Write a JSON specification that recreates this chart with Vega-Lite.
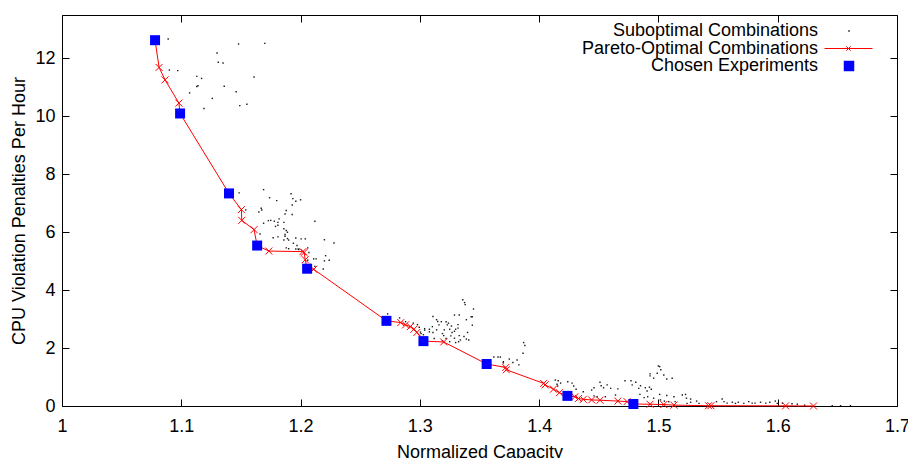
{
  "$schema": "https://vega.github.io/schema/vega-lite/v6.json",
  "width": 835,
  "height": 391,
  "autosize": {"type": "none"},
  "padding": {"left": 62, "top": 15, "right": 11, "bottom": 52},
  "background": "#ffffff",
  "config": {
    "view": {"stroke": "#000000", "strokeWidth": 1},
    "font": "Liberation Sans",
    "axis": {
      "domain": false,
      "grid": false,
      "ticks": true,
      "tickSize": -7,
      "tickColor": "#000000",
      "tickWidth": 1,
      "labelFont": "Liberation Sans",
      "labelFontSize": 18,
      "labelColor": "#000000",
      "titleFont": "Liberation Sans",
      "titleFontSize": 18,
      "titleFontWeight": "normal",
      "titleColor": "#000000"
    },
    "legend": {
      "orient": "none",
      "title": null,
      "padding": 0,
      "labelFont": "Liberation Sans",
      "labelFontSize": 18,
      "labelColor": "#000000",
      "labelAlign": "right",
      "labelLimit": 400,
      "rowPadding": 0,
      "symbolOpacity": 1
    }
  },
  "datasets": {
    "sub": [
      {"capacity":1.089,"penalty":12.67},{"capacity":1.148,"penalty":12.50},{"capacity":1.170,"penalty":12.52},{"capacity":1.130,"penalty":12.19},{"capacity":1.131,"penalty":11.87},{"capacity":1.135,"penalty":11.84},{"capacity":1.090,"penalty":11.60},{"capacity":1.097,"penalty":11.58},{"capacity":1.113,"penalty":11.38},{"capacity":1.117,"penalty":11.31},{"capacity":1.161,"penalty":11.36},{"capacity":1.114,"penalty":11.06},{"capacity":1.113,"penalty":11.03},{"capacity":1.136,"penalty":11.04},{"capacity":1.146,"penalty":10.85},{"capacity":1.107,"penalty":10.81},{"capacity":1.126,"penalty":10.62},{"capacity":1.155,"penalty":10.42},{"capacity":1.149,"penalty":10.37},{"capacity":1.119,"penalty":10.27},
      {"capacity":1.1485,"penalty":7.36},{"capacity":1.169,"penalty":7.47},{"capacity":1.174,"penalty":7.19},{"capacity":1.180,"penalty":7.09},{"capacity":1.192,"penalty":7.33},{"capacity":1.1935,"penalty":7.16},{"capacity":1.196,"penalty":7.07},{"capacity":1.200,"penalty":7.12},{"capacity":1.193,"penalty":6.94},{"capacity":1.154,"penalty":6.77},{"capacity":1.165,"penalty":6.70},{"capacity":1.167,"penalty":6.83},{"capacity":1.1675,"penalty":6.77},{"capacity":1.188,"penalty":6.75},{"capacity":1.187,"penalty":6.63},{"capacity":1.193,"penalty":6.61},{"capacity":1.182,"penalty":6.46},{"capacity":1.173,"penalty":6.40},{"capacity":1.175,"penalty":6.41},{"capacity":1.178,"penalty":6.38},{"capacity":1.181,"penalty":6.34},{"capacity":1.186,"penalty":6.34},{"capacity":1.212,"penalty":6.38},{"capacity":1.169,"penalty":6.31},{"capacity":1.179,"penalty":6.20},{"capacity":1.181,"penalty":6.24},{"capacity":1.186,"penalty":6.12},{"capacity":1.188,"penalty":6.06},{"capacity":1.189,"penalty":6.00},{"capacity":1.166,"penalty":5.94},{"capacity":1.187,"penalty":5.92},{"capacity":1.187,"penalty":5.86},{"capacity":1.189,"penalty":5.78},{"capacity":1.177,"penalty":5.81},{"capacity":1.181,"penalty":5.84},{"capacity":1.186,"penalty":5.73},{"capacity":1.190,"penalty":5.73},{"capacity":1.196,"penalty":5.80},{"capacity":1.2005,"penalty":5.77},{"capacity":1.204,"penalty":5.77},{"capacity":1.194,"penalty":5.62},{"capacity":1.197,"penalty":5.54},{"capacity":1.198,"penalty":5.42},{"capacity":1.220,"penalty":5.74},{"capacity":1.228,"penalty":5.63},{"capacity":1.188,"penalty":5.46},{"capacity":1.190,"penalty":5.43},{"capacity":1.196,"penalty":5.42},{"capacity":1.1985,"penalty":5.40},{"capacity":1.206,"penalty":5.46},{"capacity":1.207,"penalty":5.30},{"capacity":1.221,"penalty":5.19},{"capacity":1.211,"penalty":5.08},{"capacity":1.213,"penalty":5.08},{"capacity":1.220,"penalty":5.01},{"capacity":1.224,"penalty":5.03},{"capacity":1.208,"penalty":4.89},{"capacity":1.212,"penalty":4.82},{"capacity":1.219,"penalty":4.73},{"capacity":1.206,"penalty":5.03},
      {"capacity":1.336,"penalty":3.67},{"capacity":1.3375,"penalty":3.57},{"capacity":1.338,"penalty":3.50},{"capacity":1.345,"penalty":3.35},{"capacity":1.311,"penalty":3.09},{"capacity":1.329,"penalty":3.14},{"capacity":1.333,"penalty":3.14},{"capacity":1.343,"penalty":3.08},{"capacity":1.344,"penalty":3.08},{"capacity":1.283,"penalty":3.04},{"capacity":1.314,"penalty":2.98},{"capacity":1.315,"penalty":2.92},{"capacity":1.318,"penalty":2.91},{"capacity":1.322,"penalty":2.91},{"capacity":1.324,"penalty":2.86},{"capacity":1.339,"penalty":2.98},{"capacity":1.288,"penalty":2.91},{"capacity":1.2945,"penalty":2.86},{"capacity":1.298,"penalty":2.81},{"capacity":1.3105,"penalty":2.74},{"capacity":1.316,"penalty":2.80},{"capacity":1.323,"penalty":2.80},{"capacity":1.3265,"penalty":2.76},{"capacity":1.332,"penalty":2.81},{"capacity":1.344,"penalty":2.79},{"capacity":1.2995,"penalty":2.72},{"capacity":1.304,"penalty":2.67},{"capacity":1.308,"penalty":2.65},{"capacity":1.314,"penalty":2.63},{"capacity":1.3205,"penalty":2.63},{"capacity":1.325,"penalty":2.65},{"capacity":1.330,"penalty":2.65},{"capacity":1.332,"penalty":2.69},{"capacity":1.304,"penalty":2.62},{"capacity":1.308,"penalty":2.56},{"capacity":1.311,"penalty":2.54},{"capacity":1.319,"penalty":2.50},{"capacity":1.327,"penalty":2.54},{"capacity":1.329,"penalty":2.58},{"capacity":1.340,"penalty":2.54},{"capacity":1.320,"penalty":2.43},{"capacity":1.326,"penalty":2.42},{"capacity":1.333,"penalty":2.43},{"capacity":1.337,"penalty":2.40},{"capacity":1.305,"penalty":2.35},{"capacity":1.312,"penalty":2.33},{"capacity":1.322,"penalty":2.33},{"capacity":1.329,"penalty":2.34},{"capacity":1.334,"penalty":2.28},{"capacity":1.339,"penalty":2.31},{"capacity":1.341,"penalty":2.28},{"capacity":1.319,"penalty":2.25},{"capacity":1.325,"penalty":2.22},{"capacity":1.330,"penalty":2.19},{"capacity":1.3325,"penalty":2.22},{"capacity":1.3005,"penalty":2.55},{"capacity":1.301,"penalty":2.50},{"capacity":1.303,"penalty":2.46},{"capacity":1.273,"penalty":3.18},
      {"capacity":1.387,"penalty":2.19},{"capacity":1.388,"penalty":2.09},{"capacity":1.3865,"penalty":1.82},{"capacity":1.3815,"penalty":1.59},{"capacity":1.383,"penalty":1.42},{"capacity":1.378,"penalty":1.50},{"capacity":1.362,"penalty":1.69},{"capacity":1.3655,"penalty":1.69},{"capacity":1.3675,"penalty":1.69},{"capacity":1.370,"penalty":1.53},{"capacity":1.375,"penalty":1.62},{"capacity":1.370,"penalty":1.49},
      {"capacity":1.4136,"penalty":0.90},{"capacity":1.415,"penalty":0.75},{"capacity":1.416,"penalty":0.87},{"capacity":1.418,"penalty":0.79},{"capacity":1.4155,"penalty":0.69},{"capacity":1.424,"penalty":0.84},{"capacity":1.4276,"penalty":0.79},{"capacity":1.429,"penalty":0.69},{"capacity":1.431,"penalty":0.58},{"capacity":1.437,"penalty":0.49},{"capacity":1.444,"penalty":0.55},{"capacity":1.446,"penalty":0.63},{"capacity":1.451,"penalty":0.82},{"capacity":1.452,"penalty":0.70},{"capacity":1.454,"penalty":0.63},{"capacity":1.457,"penalty":0.73},{"capacity":1.460,"penalty":0.61},{"capacity":1.466,"penalty":0.59},{"capacity":1.446,"penalty":0.35},{"capacity":1.4486,"penalty":0.32},{"capacity":1.4555,"penalty":0.32},{"capacity":1.464,"penalty":0.38},{"capacity":1.472,"penalty":0.87},{"capacity":1.477,"penalty":0.87},{"capacity":1.478,"penalty":0.73},{"capacity":1.481,"penalty":0.82},{"capacity":1.485,"penalty":0.70},{"capacity":1.4835,"penalty":0.61},{"capacity":1.489,"penalty":0.63},{"capacity":1.4905,"penalty":0.52},{"capacity":1.493,"penalty":1.11},{"capacity":1.496,"penalty":0.96},{"capacity":1.499,"penalty":1.13},{"capacity":1.501,"penalty":1.36},{"capacity":1.502,"penalty":1.25},{"capacity":1.5045,"penalty":1.07},{"capacity":1.507,"penalty":0.93},{"capacity":1.5115,"penalty":0.96},{"capacity":1.4925,"penalty":0.65},{"capacity":1.494,"penalty":0.58},{"capacity":1.4845,"penalty":0.40},{"capacity":1.488,"penalty":0.29},{"capacity":1.491,"penalty":0.32},{"capacity":1.496,"penalty":0.27},{"capacity":1.501,"penalty":0.40},{"capacity":1.507,"penalty":0.36},{"capacity":1.513,"penalty":0.32},{"capacity":1.5017,"penalty":0.21},{"capacity":1.505,"penalty":0.17},{"capacity":1.5086,"penalty":0.15},{"capacity":1.514,"penalty":0.15},{"capacity":1.520,"penalty":0.38},{"capacity":1.5235,"penalty":0.27},{"capacity":1.524,"penalty":0.09},{"capacity":1.500,"penalty":1.38},{"capacity":1.493,"penalty":1.04},
      {"capacity":1.5227,"penalty":0.40},{"capacity":1.527,"penalty":0.24},{"capacity":1.532,"penalty":0.17},{"capacity":1.527,"penalty":0.13},{"capacity":1.534,"penalty":0.09},{"capacity":1.5487,"penalty":0.15},{"capacity":1.5534,"penalty":0.24},{"capacity":1.555,"penalty":0.15},{"capacity":1.5576,"penalty":0.10},{"capacity":1.562,"penalty":0.13},{"capacity":1.5646,"penalty":0.09},{"capacity":1.567,"penalty":0.13},{"capacity":1.5716,"penalty":0.09},{"capacity":1.5757,"penalty":0.15},{"capacity":1.5786,"penalty":0.10},{"capacity":1.581,"penalty":0.10},{"capacity":1.5856,"penalty":0.13},{"capacity":1.590,"penalty":0.10},{"capacity":1.5934,"penalty":0.13},{"capacity":1.598,"penalty":0.17},{"capacity":1.5996,"penalty":0.09},{"capacity":1.604,"penalty":0.10},{"capacity":1.612,"penalty":0.08},{"capacity":1.6164,"penalty":0.06},{"capacity":1.6225,"penalty":0.03},{"capacity":1.6457,"penalty":0.01},{"capacity":1.6527,"penalty":0.01},{"capacity":1.661,"penalty":0.01}
    ],
    "pareto": [
      {"capacity":1.078,"penalty":12.63},{"capacity":1.0814,"penalty":11.69},{"capacity":1.0864,"penalty":11.26},{"capacity":1.098,"penalty":10.46},{"capacity":1.099,"penalty":10.10},{"capacity":1.140,"penalty":7.34},{"capacity":1.1504,"penalty":6.78},{"capacity":1.1507,"penalty":6.41},{"capacity":1.161,"penalty":6.09},{"capacity":1.1636,"penalty":5.54},{"capacity":1.1734,"penalty":5.35},{"capacity":1.2019,"penalty":5.33},{"capacity":1.2030,"penalty":5.30},{"capacity":1.2039,"penalty":5.05},{"capacity":1.2055,"penalty":4.74},{"capacity":1.211,"penalty":4.72},{"capacity":1.272,"penalty":2.94},{"capacity":1.284,"penalty":2.88},{"capacity":1.288,"penalty":2.80},{"capacity":1.292,"penalty":2.74},{"capacity":1.295,"penalty":2.65},{"capacity":1.2975,"penalty":2.54},{"capacity":1.303,"penalty":2.24},{"capacity":1.320,"penalty":2.21},{"capacity":1.356,"penalty":1.45},{"capacity":1.372,"penalty":1.33},{"capacity":1.3725,"penalty":1.25},{"capacity":1.4038,"penalty":0.78},{"capacity":1.405,"penalty":0.73},{"capacity":1.412,"penalty":0.58},{"capacity":1.417,"penalty":0.46},{"capacity":1.4237,"penalty":0.35},{"capacity":1.430,"penalty":0.32},{"capacity":1.433,"penalty":0.26},{"capacity":1.437,"penalty":0.23},{"capacity":1.444,"penalty":0.21},{"capacity":1.451,"penalty":0.20},{"capacity":1.466,"penalty":0.17},{"capacity":1.4737,"penalty":0.15},{"capacity":1.479,"penalty":0.07},{"capacity":1.493,"penalty":0.06},{"capacity":1.5045,"penalty":0.05},{"capacity":1.513,"penalty":0.03},{"capacity":1.542,"penalty":0.01},{"capacity":1.544,"penalty":0.01},{"capacity":1.6066,"penalty":0.005},{"capacity":1.630,"penalty":0.0}
    ],
    "chosen": [
      {"capacity":1.078,"penalty":12.63},{"capacity":1.099,"penalty":10.10},{"capacity":1.140,"penalty":7.34},{"capacity":1.1636,"penalty":5.54},{"capacity":1.2055,"penalty":4.74},{"capacity":1.272,"penalty":2.94},{"capacity":1.303,"penalty":2.24},{"capacity":1.356,"penalty":1.45},{"capacity":1.4237,"penalty":0.35},{"capacity":1.479,"penalty":0.07}
    ]
  },
  "resolve": {"axis": {"x": "independent", "y": "independent"}},
  "layer": [
    {
      "data": {"name": "sub"},
      "mark": {"type": "square", "size": 2, "opacity": 0.9},
      "encoding": {
        "x": {"field": "capacity", "type": "quantitative", "scale": {"domain": [1, 1.7], "nice": false, "zero": false},
              "axis": {"orient": "bottom", "values": [1, 1.1, 1.2, 1.3, 1.4, 1.5, 1.6, 1.7], "format": "~g", "labelFlush": false, "labelPadding": 18, "title": "Normalized Capacity", "titlePadding": 8}},
        "y": {"field": "penalty", "type": "quantitative", "scale": {"domain": [0, 13.5], "nice": false},
              "axis": {"orient": "left", "values": [0, 2, 4, 6, 8, 10, 12], "labelPadding": 14, "title": "CPU Violation Penalties Per Hour", "titlePadding": 6}},
        "color": {
          "datum": "Suboptimal Combinations",
          "type": "nominal",
          "scale": {"domain": ["Suboptimal Combinations"], "range": ["#000000"]},
          "legend": {"legendX": 778, "legendY": 7, "labelOffset": -40, "symbolType": "square", "symbolSize": 2, "symbolStrokeWidth": 0}
        }
      }
    },
    {
      "data": {"name": "pareto"},
      "mark": {"type": "line", "color": "#ff0000", "strokeWidth": 1},
      "encoding": {
        "x": {"field": "capacity", "type": "quantitative",
              "axis": {"orient": "top", "values": [1, 1.1, 1.2, 1.3, 1.4, 1.5, 1.6, 1.7], "labels": false, "title": null}},
        "y": {"field": "penalty", "type": "quantitative",
              "axis": {"orient": "right", "values": [0, 2, 4, 6, 8, 10, 12], "labels": false, "title": null}}
      }
    },
    {
      "data": {"name": "pareto"},
      "mark": {"type": "point", "shape": "M-1,-1L1,1M-1,1L1,-1", "size": 49, "filled": false, "strokeWidth": 1, "opacity": 1},
      "encoding": {
        "x": {"field": "capacity", "type": "quantitative", "axis": null},
        "y": {"field": "penalty", "type": "quantitative", "axis": null},
        "stroke": {
          "datum": "Pareto-Optimal Combinations",
          "type": "nominal",
          "scale": {"domain": ["Pareto-Optimal Combinations"], "range": ["#ff0000"]},
          "legend": {"legendX": 762, "legendY": 9, "labelOffset": -55, "symbolType": "M-1,0H1M-0.09,-0.09L0.09,0.09M-0.09,0.09L0.09,-0.09", "symbolSize": 2304, "symbolStrokeWidth": 1, "symbolFillColor": "transparent", "symbolStrokeColor": "#ff0000"}
        }
      }
    },
    {
      "data": {"name": "chosen"},
      "mark": {"type": "square", "size": 100, "opacity": 1},
      "encoding": {
        "x": {"field": "capacity", "type": "quantitative", "axis": null},
        "y": {"field": "penalty", "type": "quantitative", "axis": null},
        "fill": {
          "datum": "Chosen Experiments",
          "type": "nominal",
          "scale": {"domain": ["Chosen Experiments"], "range": ["#0000ff"]},
          "legend": {"legendX": 778, "legendY": 42, "labelOffset": -40, "symbolType": "square", "symbolSize": 110, "symbolStrokeWidth": 0}
        }
      }
    }
  ]
}
